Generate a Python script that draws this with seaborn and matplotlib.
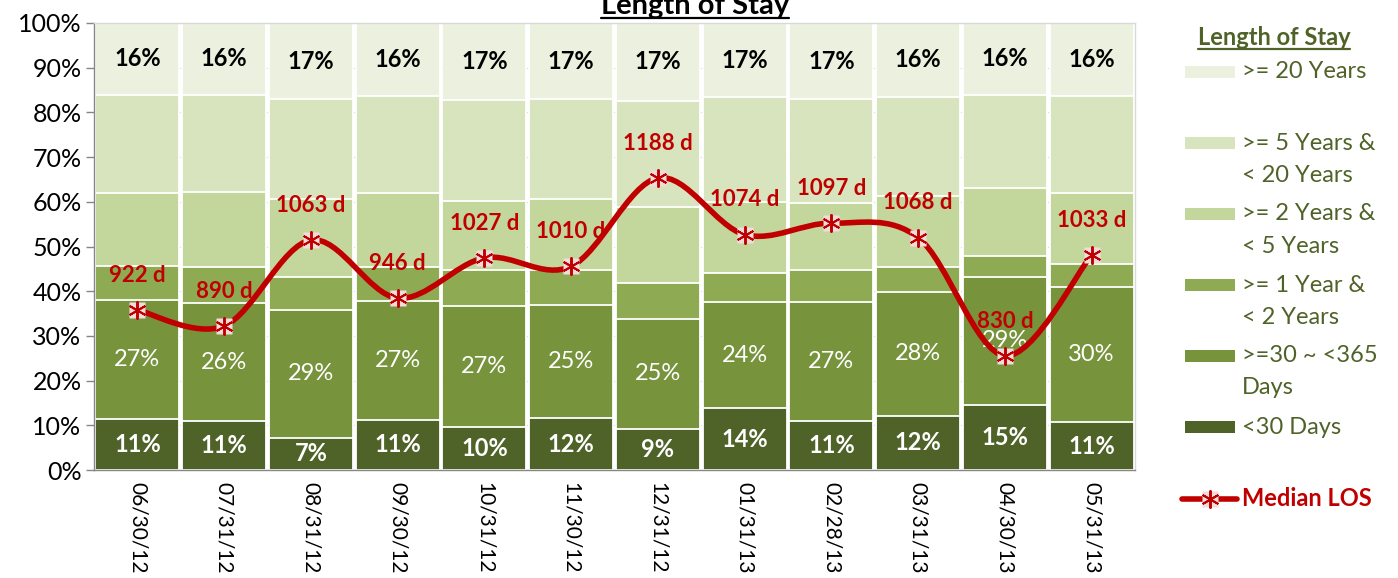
import matplotlib
matplotlib.use("Agg")
import matplotlib.pyplot as plt
from matplotlib.path import Path
from matplotlib.patches import PathPatch, Rectangle
from matplotlib.lines import Line2D
import seaborn as sns
import pandas as pd
import numpy as np

sns.set_theme(style="white")
plt.rcParams['font.family'] = ['Lato', 'DejaVu Sans']

# ---- data ----
dates = ['06/30/12', '07/31/12', '08/31/12', '09/30/12', '10/31/12', '11/30/12',
         '12/31/12', '01/31/13', '02/28/13', '03/31/13', '04/30/13', '05/31/13']
under_30d = [11.3, 11.0, 7.2, 11.2, 9.7, 11.6, 9.2, 13.8, 11.0, 12.1, 14.6, 10.7]
d30_365 = [26.7, 26.3, 28.6, 26.7, 27.0, 25.4, 24.6, 23.8, 26.6, 27.8, 28.6, 30.3]
yr1_2 = [7.7, 8.2, 7.4, 7.6, 8.0, 7.7, 8.0, 6.4, 7.1, 5.6, 4.7, 5.1]
yr2_5 = [16.2, 16.6, 17.4, 16.4, 15.5, 15.9, 17.1, 15.9, 15.1, 15.8, 15.1, 15.9]
yr5_20 = [22.0, 21.9, 22.3, 21.7, 22.6, 22.3, 23.7, 23.5, 23.1, 22.2, 21.0, 21.7]
yr20 = [16.1, 16.0, 17.1, 16.4, 17.2, 17.1, 17.4, 16.6, 17.1, 16.5, 16.0, 16.3]
median_los = [922, 890, 1063, 946, 1027, 1010, 1188, 1074, 1097, 1068, 830, 1033]

series_names = ['<30 Days', '>=30 ~ <365\nDays', '>= 1 Year &\n< 2 Years',
                '>= 2 Years &\n< 5 Years', '>= 5 Years &\n< 20 Years', '>= 20 Years']
colors = ['#4F6228', '#77933C', '#8EAA52', '#C3D69B', '#D7E4BD', '#EBF1DE']
red = '#C00000'
olive = '#4F6228'

df = pd.DataFrame({'date': dates, '<30': under_30d, '30-365': d30_365, '1-2': yr1_2,
                   '2-5': yr2_5, '5-20': yr5_20, '20+': yr20})
seg_cols = ['<30', '30-365', '1-2', '2-5', '5-20', '20+']
cum = df[seg_cols].cumsum(axis=1)

W, H = 1398, 578
fig = plt.figure(figsize=(W / 100, H / 100), dpi=100)
ax = fig.add_axes([94 / W, 1 - 470 / H, (1135 - 94) / W, (470 - 23) / H])

# stacked bars: draw cumulative totals from the top down
for k in reversed(range(len(seg_cols))):
    sns.barplot(x=df['date'], y=cum[seg_cols[k]], color=colors[k], saturation=1,
                width=0.97, edgecolor='white', linewidth=1.3, errorbar=None,
                ax=ax, zorder=2)

ax.set_xlim(-0.5, len(dates) - 0.5)
ax.set_ylim(0, 100)
ax.set_yticks(np.arange(0, 101, 10))
ax.set_yticklabels([f'{v}%' for v in range(0, 101, 10)], fontsize=18, color='black')
ax.set_xlabel('')
ax.set_ylabel('')
ax.set_xticks(range(len(dates)))
ax.set_xticklabels(dates, rotation=-90, fontsize=15, color='black', va='top', ha='center')
ax.set_xticks(np.arange(-0.5, len(dates)), minor=True)
ax.tick_params(axis='x', which='major', length=0, pad=9)
ax.tick_params(axis='x', which='minor', length=5, width=1, color='#868686', direction='out')
ax.tick_params(axis='y', length=6, width=1, color='#868686', direction='out', pad=3, left=True)
ax.yaxis.grid(True, color='#D9D9D9', lw=0.8, zorder=0)
ax.set_axisbelow(True)
for s in ['left', 'bottom']:
    ax.spines[s].set_color('#868686')
    ax.spines[s].set_linewidth(1)
for s in ['top', 'right']:
    ax.spines[s].set_color('#D9D9D9')
    ax.spines[s].set_linewidth(1)

# segment labels
for i in range(len(dates)):
    c = cum.iloc[i]
    ax.text(i, (c['5-20'] + 100) / 2, f"{round(yr20[i])}%", ha='center', va='center',
            fontsize=17, fontweight='bold', color='black', zorder=3)
    ax.text(i, (c['<30'] + c['30-365']) / 2, f"{round(d30_365[i])}%", ha='center', va='center',
            fontsize=17, color='white', zorder=3)
    ax.text(i, c['<30'] / 2, f"{round(under_30d[i])}%", ha='center', va='center',
            fontsize=17, fontweight='bold', color='white', zorder=3)

# median LOS on hidden secondary axis, smoothed like Excel
ax2 = ax.twinx()
ax2.set_ylim(600, 1500)
ax2.set_xlim(ax.get_xlim())
ax2.set_axis_off()
pts = np.column_stack([np.arange(len(median_los)), median_los]).astype(float)
verts = [tuple(pts[0])]
codes = [Path.MOVETO]
n = len(pts)
for i in range(n - 1):
    p_prev = pts[max(i - 1, 0)]
    p_next2 = pts[min(i + 2, n - 1)]
    c1 = pts[i] + (pts[i + 1] - p_prev) / 6
    c2 = pts[i + 1] - (p_next2 - pts[i]) / 6
    verts += [tuple(c1), tuple(c2), tuple(pts[i + 1])]
    codes += [Path.CURVE4] * 3
ax2.add_patch(PathPatch(Path(verts, codes), facecolor='none', edgecolor=red, lw=4,
                        capstyle='round', zorder=4))
ax2.plot(pts[:, 0], pts[:, 1], ls='none', marker='s', ms=12, mfc='#F2DCDB', mec='none', zorder=5)
ax2.plot(pts[:, 0], pts[:, 1], ls='none', marker=(6, 2, 0), ms=13, mec=red, mew=1.4, zorder=6)
for i, v in enumerate(median_los):
    ax2.annotate(f"{v} d", (i, v), xytext=(0, 25), textcoords='offset points',
                 ha='center', va='center', fontsize=16, fontweight='bold', color=red, zorder=7)

# titles
title = fig.text(0.497, 1 - 14 / H, 'Length of Stay', ha='center', va='baseline',
                 fontsize=21, fontweight='bold', color='black')
leg_title = fig.text(1274 / W, 1 - 45 / H, 'Length of Stay', ha='center', va='baseline',
                     fontsize=17, fontweight='bold', color=olive)

# custom legend (swatch + one text per line)
entry_y = [72, 143, 214, 285, 356, 427]
line_gap = 32
for k, y in zip(reversed(range(6)), entry_y):
    fig.add_artist(Rectangle((1185 / W, 1 - (y + 6) / H), 50 / W, 12 / H,
                             transform=fig.transFigure, facecolor=colors[k], edgecolor='none'))
    for j, part in enumerate(series_names[k].split('\n')):
        fig.text(1242 / W, 1 - (y + j * line_gap) / H, part, ha='left', va='center',
                 fontsize=17, color=olive)
y_los = 1 - 499 / H
fig.add_artist(Line2D([1182 / W, 1237 / W], [y_los, y_los], transform=fig.transFigure,
                      color=red, lw=4))
fig.add_artist(Line2D([1210 / W], [y_los], transform=fig.transFigure, ls='none', marker='s',
                      ms=12, mfc='#F2DCDB', mec='none'))
fig.add_artist(Line2D([1210 / W], [y_los], transform=fig.transFigure, ls='none',
                      marker=(6, 2, 0), ms=13, mec=red, mew=1.4))
fig.text(1242 / W, y_los, 'Median LOS', ha='left', va='center', fontsize=17,
         fontweight='bold', color=red)

# underlines for the two titles
fig.canvas.draw()
r = fig.canvas.get_renderer()
for t in [title, leg_title]:
    bb = t.get_window_extent(r)
    yb = t.get_position()[1] - 3.5 / H
    fig.add_artist(Line2D([bb.x0 / W, bb.x1 / W], [yb, yb], transform=fig.transFigure,
                          color=t.get_color(), lw=1.6))

fig.savefig('out.png', dpi=100)
